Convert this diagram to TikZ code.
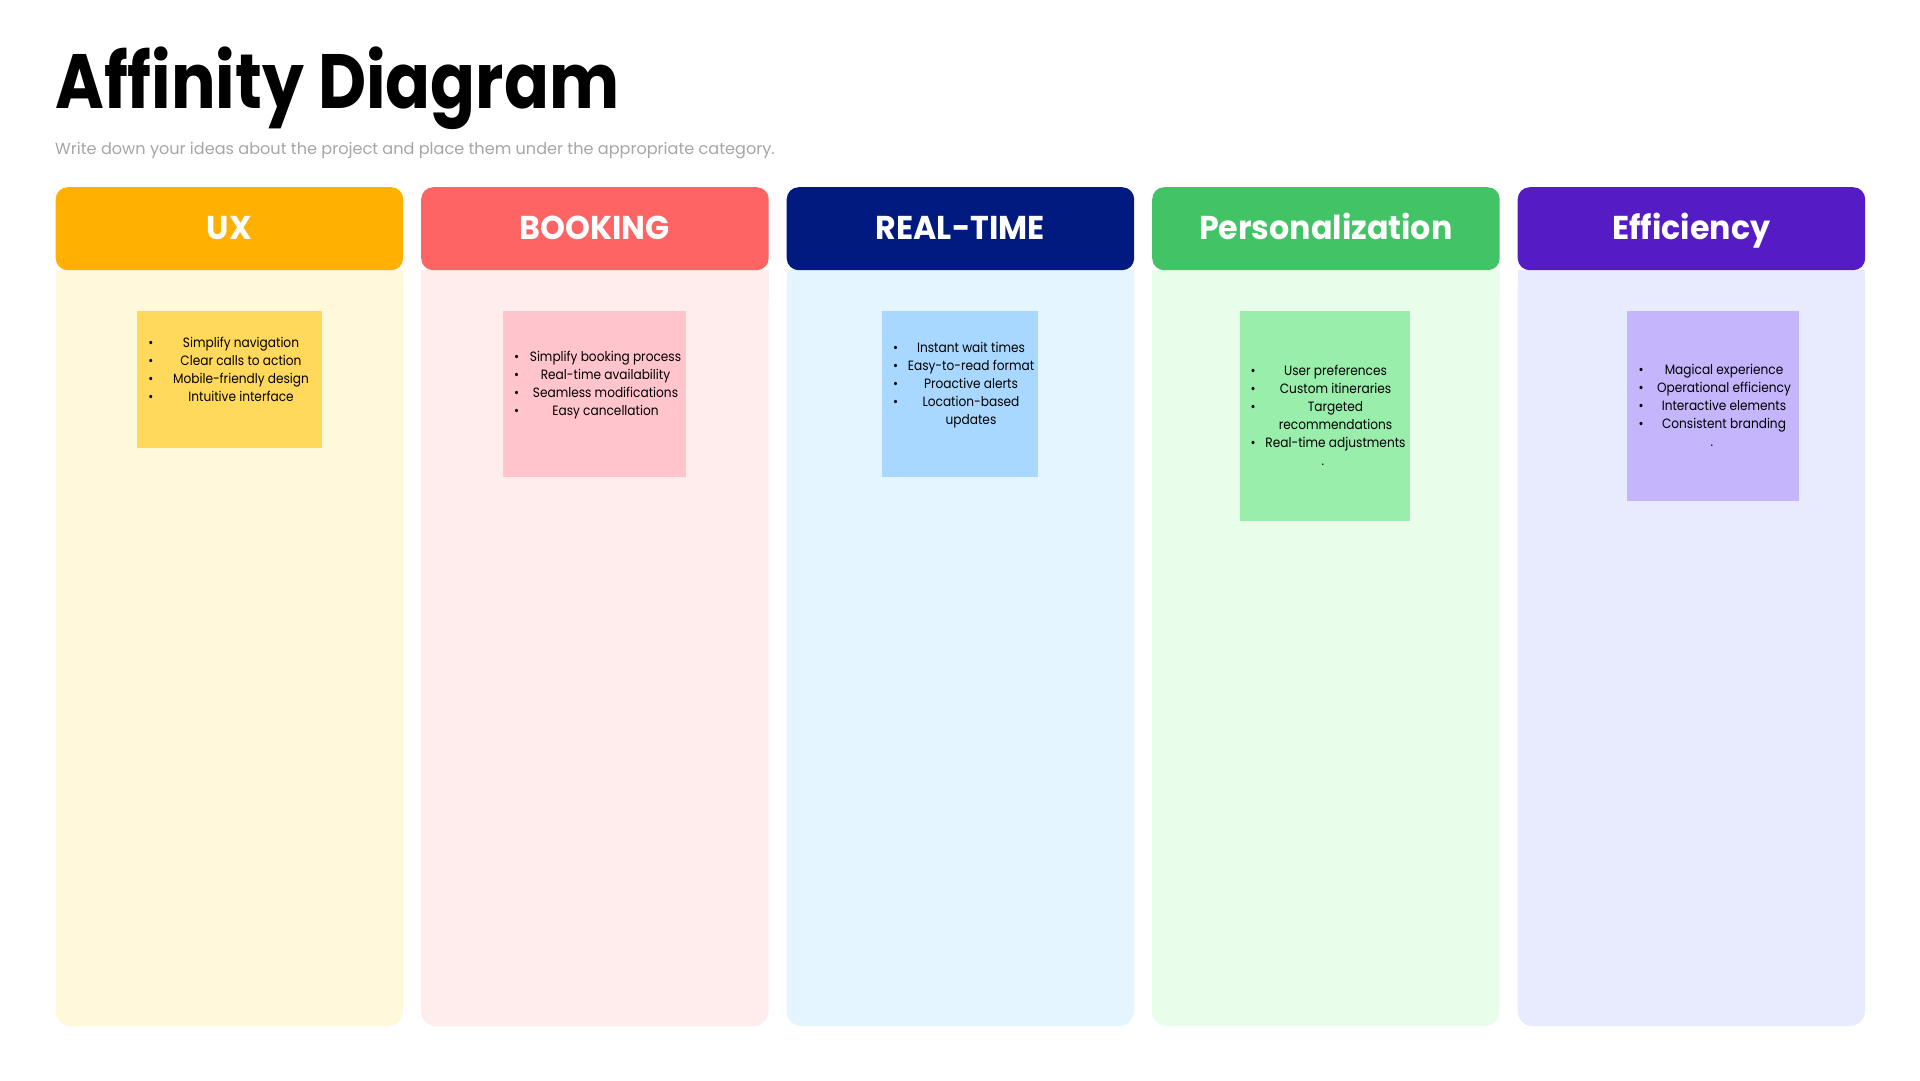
\documentclass[tikz,border=0pt]{standalone}
\usepackage{fontspec}
\setmainfont{Poppins}
\newfontfamily\titlefont{Poppins}[FakeStretch=0.86]
\newfontfamily\headfont{Poppins}[FakeStretch=0.96]
\newfontfamily\notefont{Poppins}[FakeStretch=0.9]

\definecolor{uxH}{HTML}{FFB000}
\definecolor{uxB}{HTML}{FFF8DB}
\definecolor{uxN}{HTML}{FFD95C}
\definecolor{bkH}{HTML}{FF6464}
\definecolor{bkB}{HTML}{FFEDEE}
\definecolor{bkN}{HTML}{FFC4CC}
\definecolor{rtH}{HTML}{001A80}
\definecolor{rtB}{HTML}{E5F5FF}
\definecolor{rtN}{HTML}{A8D8FF}
\definecolor{psH}{HTML}{42C466}
\definecolor{psB}{HTML}{E8FDEA}
\definecolor{psN}{HTML}{98EEAA}
\definecolor{efH}{HTML}{551CC6}
\definecolor{efB}{HTML}{E8EAFE}
\definecolor{efN}{HTML}{C4B5FD}
\definecolor{subgray}{HTML}{A6A6A6}

\tikzset{
  header/.style={rectangle, rounded corners=12pt, minimum width=347.5pt,
    minimum height=83pt, anchor=north west, inner sep=0pt},
  headtext/.style={anchor=base, text=white, inner sep=0pt,
    font=\headfont\bfseries\fontsize{33}{36}\selectfont},
  item/.style={anchor=base, inner sep=0pt, font=\notefont\fontsize{13.5}{16}\selectfont},
  dot/.style={anchor=base, inner sep=0pt, font=\notefont\fontsize{13.5}{16}\selectfont},
}

% one category column: name, header colour, body colour, label, left edge
\newcommand{\catcolumn}[5]{%
  \fill[#3, rounded corners=15pt] (#5,270) rectangle (#5+347.5,1026);
  \fill[#3] (#5,270) rectangle (#5+347.5,300);
  \node[header, fill=#2] (#1-head) at (#5,187) {};
  \node[headtext] (#1-title) at (#5+173.75,239) {#4};
}

\begin{document}
\begin{tikzpicture}[x=1pt, y=-1pt]
\useasboundingbox (0,0) rectangle (1920,1080);
\fill[white] (0,0) rectangle (1920,1080);

% title and subtitle
\node[anchor=base west, inner sep=0pt, font=\titlefont\bfseries\fontsize{77}{80}\selectfont]
  (title) at (55,108.5) {Affinity Diagram};
\node[anchor=base west, inner sep=0pt, text=subgray, font=\fontsize{16.1}{18}\selectfont]
  (subtitle) at (55,154) {Write down your ideas about the project and place them under the appropriate category.};

% category columns
\catcolumn{ux}{uxH}{uxB}{UX}{55.5}
\catcolumn{bk}{bkH}{bkB}{BOOKING}{421}
\catcolumn{rt}{rtH}{rtB}{REAL-TIME}{786.5}
\catcolumn{ps}{psH}{psB}{Personalization}{1152}
\catcolumn{ef}{efH}{efB}{Efficiency}{1517.5}

% sticky notes
\fill[uxN] (137,311) rectangle (321.7,448);
\fill[bkN] (502.7,311) rectangle (685.7,476.7);
\fill[rtN] (881.7,311) rectangle (1038,476.7);
\fill[psN] (1240,311) rectangle (1410.3,520.7);
\fill[efN] (1627,311) rectangle (1799,501);

% UX items
\foreach \t [count=\k from 0] in {Simplify navigation, Clear calls to action, Mobile-friendly design, Intuitive interface} {
  \node[dot] (uxb\k) at (151,347.3+18.1*\k) {•};
  \node[item] (uxi\k) at (241,347.3+18.1*\k) {\t};
}
% BOOKING items
\foreach \t [count=\k from 0] in {Simplify booking process, Real-time availability, Seamless modifications, Easy cancellation} {
  \node[dot] (bkb\k) at (516.7,361.7+18*\k) {•};
  \node[item] (bki\k) at (605.5,361.7+18*\k) {\t};
}
% REAL-TIME items
\foreach \t [count=\k from 0] in {Instant wait times, Easy-to-read format, Proactive alerts, Location-based} {
  \node[dot] (rtb\k) at (895.7,352.7+18*\k) {•};
  \node[item] (rti\k) at (971,352.7+18*\k) {\t};
}
\node[item] (rti4) at (971,352.7+72) {updates};
% Personalization items
\node[dot] (psb0) at (1253,375) {•};
\node[item] (psi0) at (1335.5,375) {User preferences};
\node[dot] (psb1) at (1253,393) {•};
\node[item] (psi1) at (1335.5,393) {Custom itineraries};
\node[dot] (psb2) at (1253,411) {•};
\node[item] (psi2) at (1335.5,411) {Targeted};
\node[item] (psi3) at (1335.5,429) {recommendations};
\node[dot] (psb4) at (1253,447) {•};
\node[item] (psi4) at (1335.5,447) {Real-time adjustments};
\node[item] (psi5) at (1323,465) {.};
% Efficiency items
\foreach \t [count=\k from 0] in {Magical experience, Operational efficiency, Interactive elements, Consistent branding} {
  \node[dot] (efb\k) at (1641,374+18*\k) {•};
  \node[item] (efi\k) at (1724,374+18*\k) {\t};
}
\node[item] (efi4) at (1712,446) {.};
\end{tikzpicture}
\end{document}
